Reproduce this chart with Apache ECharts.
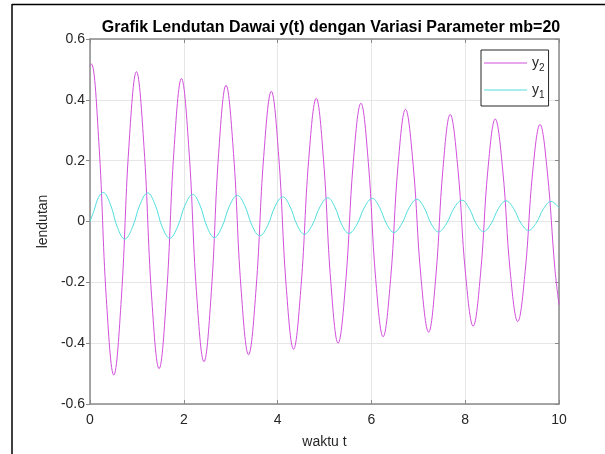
<!DOCTYPE html>
<html>
<head>
<meta charset="utf-8">
<script src="https://cdn.jsdelivr.net/npm/echarts@6/dist/echarts.min.js"></script>
<style>
html,body{margin:0;padding:0;background:#fff;}
#c{width:605px;height:454px;}
</style>
</head>
<body>
<div id="c"></div>
<script>
// Values: [t, value]
// (extremes, plus points on the curve between them)
var y2Points = [
  [0,0.512],[0.03,0.518],[0.189,0.259],[0.348,-0.253],[0.507,-0.505],
  [0.668,-0.253],[0.829,0.246],[0.99,0.4925],[1.151,0.246],[1.312,-0.242],[1.473,-0.484],
  [1.632,-0.242],[1.791,0.235],[1.95,0.470],[2.11,0.235],[2.27,-0.231],[2.43,-0.461],
  [2.587,-0.231],[2.743,0.224],[2.90,0.448],[3.06,0.224],[3.22,-0.219],[3.38,-0.438],
  [3.542,-0.219],[3.704,0.214],[3.866,0.428],[4.024,0.214],[4.182,-0.21],[4.34,-0.42],
  [4.501,-0.21],[4.663,0.203],[4.824,0.405],[4.979,0.203],[5.135,-0.20],[5.29,-0.40],
  [5.452,-0.20],[5.614,0.195],[5.776,0.389],[5.934,0.195],[6.092,-0.19],[6.25,-0.379],
  [6.409,-0.19],[6.568,0.185],[6.727,0.369],[6.891,0.185],[7.056,-0.182],[7.22,-0.364],
  [7.373,-0.182],[7.527,0.176],[7.68,0.352],[7.843,0.176],[8.007,-0.172],[8.17,-0.344],
  [8.327,-0.172],[8.483,0.169],[8.64,0.337],[8.80,0.169],[8.96,-0.165],[9.12,-0.329],
  [9.278,-0.165],[9.437,0.16],[9.595,0.319],[9.753,0.16],[9.912,-0.155],[10,-0.273]
];
var y1Points = [
  [0,0],[0.09,0.038],[0.18,0.079],[0.28,0.095],[0.433,0.057],[0.587,-0.020],[0.74,-0.058],
  [0.903,-0.020],[1.067,0.056],[1.23,0.094],[1.387,0.056],[1.543,-0.019],[1.70,-0.055],
  [1.863,-0.019],[2.027,0.054],[2.19,0.089],[2.343,0.054],[2.497,-0.018],[2.65,-0.053],
  [2.813,-0.018],[2.977,0.052],[3.14,0.086],[3.30,0.052],[3.46,-0.015],[3.62,-0.047],
  [3.783,-0.015],[3.947,0.050],[4.11,0.081],[4.263,0.050],[4.417,-0.012],[4.57,-0.042],
  [4.737,-0.012],[4.903,0.048],[5.07,0.078],[5.22,0.048],[5.37,-0.011],[5.52,-0.039],
  [5.687,-0.011],[5.853,0.047],[6.02,0.076],[6.173,0.047],[6.327,-0.009],[6.48,-0.036],
  [6.643,-0.009],[6.807,0.046],[6.97,0.073],[7.123,0.046],[7.277,-0.008],[7.43,-0.034],
  [7.597,-0.008],[7.763,0.044],[7.93,0.070],[8.083,0.044],[8.237,-0.008],[8.39,-0.033],
  [8.55,-0.008],[8.71,0.043],[8.87,0.068],[9.03,0.043],[9.19,-0.006],[9.35,-0.029],
  [9.51,-0.006],[9.67,0.042],[9.83,0.066],[10,0.045]
];
var xTicks = [0, 2, 4, 6, 8, 10];
var yTicks = [-0.6, -0.4, -0.2, 0, 0.2, 0.4, 0.6];
var seriesNames = ['y2', 'y1'];
var titleText = 'Grafik Lendutan Dawai y(t) dengan Variasi Parameter mb=20';

var FONT = 'Liberation Sans, Arial, Helvetica, sans-serif';
var AXIS_COLOR = '#8a8a8a';
var TEXT_COLOR = '#262626';

var chart = echarts.init(document.getElementById('c'), null, {renderer: 'canvas'});

function yFmt(v) { return Math.abs(v) < 1e-9 ? '0' : v.toFixed(1); }

var option = {
  backgroundColor: '#fff',
  animation: false,
  title: {
    text: titleText,
    left: 326,
    top: 15,
    textAlign: 'center',
    textStyle: {fontFamily: FONT, fontSize: 16, fontWeight: 'bold', color: '#000'}
  },
  grid: {left: 90, right: 46, top: 39, bottom: 46, containLabel: false},
  legend: {
    data: seriesNames,
    orient: 'vertical',
    left: 481,
    top: 50,
    padding: [6, 4, 6, 3],
    icon: 'rect',
    itemWidth: 43,
    itemHeight: 1.2,
    itemGap: 10,
    itemTextGap: 3,
    borderColor: '#262626',
    borderWidth: 1,
    backgroundColor: '#fff',
    formatter: function (name) { return '{a|' + name.charAt(0) + '}{b|' + name.slice(1) + '}'; },
    textStyle: {
      color: TEXT_COLOR,
      fontFamily: FONT,
      rich: {
        a: {fontSize: 14, fontFamily: FONT, color: TEXT_COLOR, lineHeight: 14},
        b: {fontSize: 10, fontFamily: FONT, color: TEXT_COLOR, lineHeight: 10, verticalAlign: 'bottom', padding: [0, 0, -3, 0]}
      }
    }
  },
  xAxis: [{
    type: 'value', min: xTicks[0], max: xTicks[xTicks.length - 1], interval: 2,
    position: 'bottom',
    name: 'waktu t', nameLocation: 'middle', nameGap: 31,
    nameTextStyle: {fontFamily: FONT, fontSize: 14, color: TEXT_COLOR},
    axisLine: {show: true, onZero: false, lineStyle: {color: AXIS_COLOR, width: 1.5}},
    axisTick: {show: true, inside: true, length: 4, lineStyle: {color: AXIS_COLOR, width: 1}},
    axisLabel: {fontFamily: FONT, fontSize: 14, color: TEXT_COLOR, margin: 9},
    splitLine: {show: true, lineStyle: {color: '#e6e6e6', width: 1}}
  }, {
    type: 'value', min: xTicks[0], max: xTicks[xTicks.length - 1], interval: 2,
    position: 'top',
    axisLine: {show: true, onZero: false, lineStyle: {color: AXIS_COLOR, width: 1.5}},
    axisTick: {show: true, inside: true, length: 4, lineStyle: {color: AXIS_COLOR, width: 1}},
    axisLabel: {show: false},
    splitLine: {show: false}
  }],
  yAxis: [{
    type: 'value', min: yTicks[0], max: yTicks[yTicks.length - 1], interval: 0.2,
    position: 'left',
    name: 'lendutan', nameLocation: 'middle', nameGap: 39, nameRotate: 90,
    nameTextStyle: {fontFamily: FONT, fontSize: 14, color: TEXT_COLOR},
    axisLine: {show: true, onZero: false, lineStyle: {color: AXIS_COLOR, width: 1.5}},
    axisTick: {show: true, inside: false, length: 4, lineStyle: {color: AXIS_COLOR, width: 1}},
    axisLabel: {fontFamily: FONT, fontSize: 14, color: TEXT_COLOR, margin: 5, formatter: yFmt},
    splitLine: {show: true, lineStyle: {color: '#e6e6e6', width: 1}}
  }, {
    type: 'value', min: yTicks[0], max: yTicks[yTicks.length - 1], interval: 0.2,
    position: 'right',
    axisLine: {show: true, onZero: false, lineStyle: {color: AXIS_COLOR, width: 1.5}},
    axisTick: {show: true, inside: true, length: 4, lineStyle: {color: AXIS_COLOR, width: 1}},
    axisLabel: {show: false},
    splitLine: {show: false}
  }],
  series: [{
    name: seriesNames[0], type: 'line', data: y2Points,
    xAxisIndex: 0, yAxisIndex: 0,
    smooth: 0.4, symbol: 'none', showSymbol: false,
    lineStyle: {color: '#d24fdc', width: 1},
    itemStyle: {color: '#d24fdc'}
  }, {
    name: seriesNames[1], type: 'line', data: y1Points,
    xAxisIndex: 0, yAxisIndex: 0,
    smooth: 0.4, symbol: 'none', showSymbol: false,
    lineStyle: {color: '#52dede', width: 1},
    itemStyle: {color: '#52dede'}
  }],
  graphic: [
    {type: 'line', shape: {x1: 12, y1: 4.5, x2: 605, y2: 4.5}, style: {stroke: '#000', lineWidth: 1.5}, silent: true},
    {type: 'line', shape: {x1: 12, y1: 4, x2: 12, y2: 454}, style: {stroke: '#000', lineWidth: 1.5}, silent: true}
  ]
};
chart.setOption(option);
</script>
</body>
</html>
